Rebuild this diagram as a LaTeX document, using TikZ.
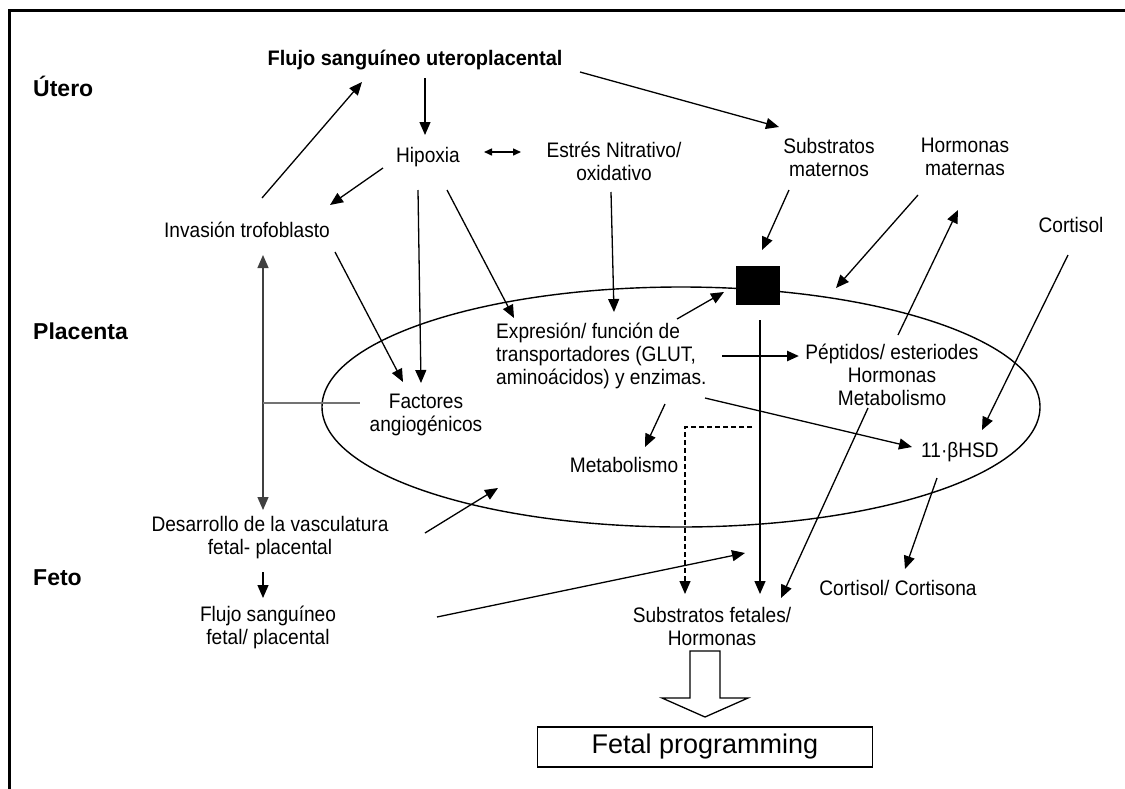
\documentclass[tikz,border=0pt]{standalone}
\usepackage{fontspec}
\setmainfont{Liberation Sans}
\newfontfamily\narrowfont[FakeStretch=0.91]{Liberation Sans}
\newfontfamily\narrowbold[FakeStretch=0.95]{Liberation Sans Bold}
\usetikzlibrary{arrows.meta}
\begin{document}
\begin{tikzpicture}[x=1pt,y=-1pt,
  lbl/.style={font=\narrowfont\fontsize{21}{23}\selectfont, align=center, inner sep=1pt},
  lblb/.style={font=\narrowbold\fontsize{21}{23}\selectfont, inner sep=1pt},
  region/.style={font=\bfseries\fontsize{23}{26}\selectfont, anchor=west, inner sep=0pt},
  arr/.style={-{Triangle[length=13pt,width=11pt]}, line width=1.3pt},
  ln/.style={line width=1.3pt},
  dbl/.style={{Triangle[length=8pt,width=7pt]}-{Triangle[length=8pt,width=7pt]}, line width=1.5pt}]
\useasboundingbox (0,0) rectangle (1125,788);
\fill[white] (0,0) rectangle (1125,788);
% frame
\draw[line width=3pt] (9,800) -- (9,10) -- (1130,10);
% ellipse
\draw[line width=1.4pt] (681,407) ellipse [x radius=359, y radius=120];
% region labels
\node[region] (utero) at (33,86) {Útero};
\node[region] (placenta) at (33,331) {Placenta};
\node[region] (feto) at (33,578) {Feto};
% nodes
\node[lblb] (flujo) at (415,60) {Flujo sanguíneo uteroplacental};
\node[lbl] (hipoxia) at (428,157) {Hipoxia};
\node[lbl] (estres) at (614,161) {Estrés Nitrativo/\\oxidativo};
\node[lbl] (subm) at (829,157) {Substratos\\maternos};
\node[lbl] (horm) at (965,157) {Hormonas\\maternas};
\node[lbl] (cort) at (1071,225) {Cortisol};
\node[lbl] (inv) at (247,230) {Invasión trofoblasto};
\node[fill=black, minimum width=44pt, minimum height=39pt, inner sep=0pt] (sq) at (758,285) {};
\node[lbl] (fact) at (426,415) {Factores\\angiogénicos};
\node[lbl, align=left, anchor=west] (expr) at (495,356) {Expresión/ función de\\transportadores (GLUT,\\aminoácidos) y enzimas.};
\node[lbl] (pept) at (892,375) {Péptidos/ esteriodes\\Hormonas\\Metabolismo};
\node[lbl] (metab) at (624,465) {Metabolismo};
\node[lbl] (hsd) at (960,452) {11·βHSD};
\node[lbl] (desa) at (270,538) {Desarrollo de la vasculatura\\fetal- placental};
\node[lbl] (flfet) at (268,627) {Flujo sanguíneo\\fetal/ placental};
\node[lbl] (cc) at (898,588) {Cortisol/ Cortisona};
\node[lbl] (subf) at (712,626) {Substratos fetales/\\Hormonas};
\node[draw, line width=1.5pt, minimum width=335pt, minimum height=40pt, inner sep=0pt,
      font=\fontsize{27}{30}\selectfont] (fp) at (705,747) {Fetal programming};
% named connector ends
\coordinate (invTop) at (262,198);
\coordinate (flujoL) at (362,82);
\coordinate (flujoD) at (425,78);
\coordinate (hipU) at (425,135);
\coordinate (hipR) at (484,152);
\coordinate (estL) at (521,152);
\coordinate (flujoR) at (580,72);
\coordinate (submU) at (779,127);
\coordinate (hipLL) at (383,168);
\coordinate (invR) at (330,205);
\coordinate (hipB1) at (418,190);
\coordinate (factT1) at (421,383);
\coordinate (invB) at (335,252);
\coordinate (factT2) at (403,382);
\coordinate (hipB2) at (447,190);
\coordinate (exprT1) at (514,318);
\coordinate (estB) at (611,192);
\coordinate (exprT2) at (614,312);
\coordinate (exprTR) at (677,319);
\coordinate (sqL) at (724,292);
\coordinate (submB) at (789,190);
\coordinate (sqT) at (762,250);
\coordinate (hormB) at (918,195);
\coordinate (ellT) at (836,288);
\coordinate (peptT) at (898,335);
\coordinate (hormBR) at (958,210);
\coordinate (cortB) at (1068,255);
\coordinate (hsdT) at (982,430);
\coordinate (exprR) at (722,356);
\coordinate (peptL) at (799,356);
\coordinate (sqB) at (760,320);
\coordinate (subfT1) at (760,594);
\coordinate (exprBR) at (705,398);
\coordinate (hsdL) at (912,447);
\coordinate (exprB) at (665,404);
\coordinate (metabT) at (645,447);
\coordinate (dashS) at (752,427);
\coordinate (dashC) at (685,427);
\coordinate (subfT2) at (685,594);
\coordinate (peptB) at (868,408);
\coordinate (subfT3) at (781,598);
\coordinate (hsdB) at (937,478);
\coordinate (ccT) at (905,569);
\coordinate (desaR) at (425,533);
\coordinate (ellB) at (498,488);
\coordinate (flfetR) at (437,617);
\coordinate (subfTL) at (745,553);
\coordinate (desaB) at (263,572);
\coordinate (flfetT) at (263,598);
\coordinate (vTop) at (263,255);
\coordinate (vBot) at (263,510);
\coordinate (vMid) at (263,403);
\coordinate (factL) at (360,403);
% connectors
\draw[arr] (invTop) -- (flujoL);
\draw[arr] (flujoD) -- (hipU);
\draw[dbl] (hipR) -- (estL);
\draw[arr] (flujoR) -- (submU);
\draw[arr] (hipLL) -- (invR);
\draw[arr] (hipB1) -- (factT1);
\draw[arr] (invB) -- (factT2);
\draw[arr] (hipB2) -- (exprT1);
\draw[arr] (estB) -- (exprT2);
\draw[arr] (exprTR) -- (sqL);
\draw[arr] (submB) -- (sqT);
\draw[arr] (hormB) -- (ellT);
\draw[arr] (peptT) -- (hormBR);
\draw[arr] (cortB) -- (hsdT);
\draw[-{Triangle[length=12pt,width=10pt]}, line width=2.5pt] (exprR) -- (peptL);
\draw[arr] (sqB) -- (subfT1);
\draw[arr] (exprBR) -- (hsdL);
\draw[arr] (exprB) -- (metabT);
\draw[arr, dash pattern=on 5pt off 3pt] (dashS) -- (dashC) -- (subfT2);
\draw[arr] (peptB) -- (subfT3);
\draw[arr] (hsdB) -- (ccT);
\draw[arr] (desaR) -- (ellB);
\draw[arr] (flfetR) -- (subfTL);
\draw[arr] (desaB) -- (flfetT);
\draw[{Triangle[length=13pt,width=11pt]}-{Triangle[length=13pt,width=11pt]}, line width=1.3pt, black!75] (vTop) -- (vBot);
\draw[ln, black!55] (vMid) -- (factL);
% hollow arrow to Fetal programming
\draw[line width=1.3pt, fill=white] (690,651) -- (720,651) -- (720,698) -- (748,698) -- (705,717) -- (662,698) -- (690,698) -- cycle;
\end{tikzpicture}
\end{document}
